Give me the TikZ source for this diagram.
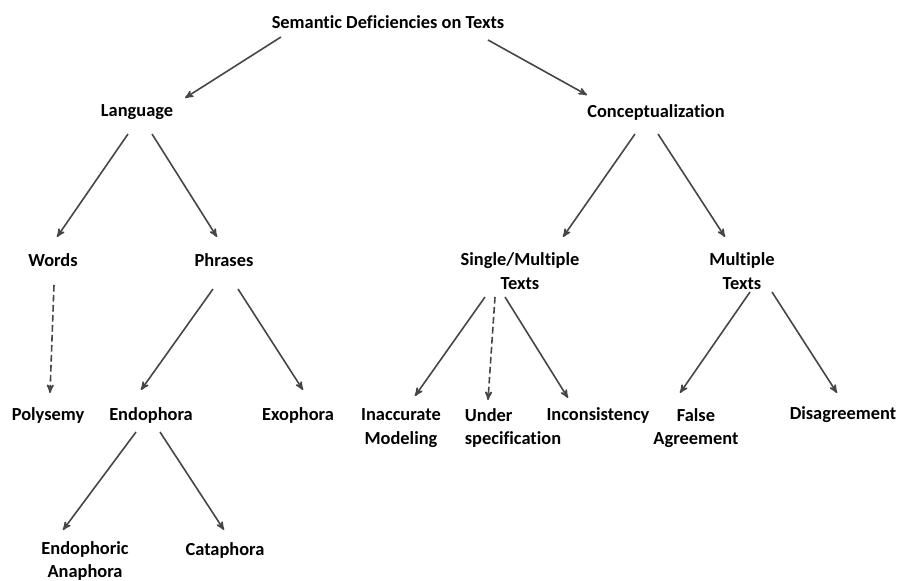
\documentclass[tikz,border=0pt]{standalone}
\usepackage{fontspec}
\setmainfont{Carlito}[Ligatures=NoCommon]
\usepackage{tikz}
\usetikzlibrary{arrows}
\definecolor{darkline}{RGB}{70,70,70}
\tikzset{->,>=stealth',
    x=0.75pt, y=-0.75pt,
    cat/.style={font=\bfseries\fontsize{13.8}{17.5}\selectfont,inner sep=0pt,align=center},
    link/.style={draw=darkline,line width=1.2pt},
    weak/.style={link,dash pattern=on 5pt off 2.5pt}}

\begin{document}
\begin{tikzpicture}
\useasboundingbox (0,0) rectangle (900,581);

\node[cat]  (root)    [] at (388,22)  {Semantic Deficiencies on Texts};
\node[cat]  (lang)    [] at (137,112) {Language};
\node[cat]  (concept) [] at (656,112) {Conceptualization};
\node[cat]  (words)   [] at (53,260)  {Words};
\node[cat]  (phrases) [] at (224,260) {Phrases};
\node[cat]  (single)  [] at (520,271) {Single/Multiple\\Texts};
\node[cat]  (multi)   [] at (742,271) {Multiple\\Texts};
\node[cat]  (poly)    [] at (48,415)  {Polysemy};
\node[cat]  (endo)    [] at (151,415) {Endophora};
\node[cat]  (exo)     [] at (298,415) {Exophora};
\node[cat]  (inacc)   [] at (401,428) {Inaccurate\\Modeling};
\node[cat,align=left] (under) [] at (513,428) {Under\\specification};
\node[cat]  (incons)  [] at (598,415) {Inconsistency};
\node[cat]  (false)   [] at (696,428) {False\\Agreement};
\node[cat]  (disag)   [] at (843,415) {Disagreement};
\node[cat]  (endoana) [] at (85,561)  {Endophoric\\Anaphora};
\node[cat]  (cata)    [] at (225,550) {Cataphora};

\path[]
    ([shift={(-107,15)}]root.center)  edge [link] ([shift={(48,-14)}]lang.center)
    ([shift={(100,18)}]root.center)   edge [link] ([shift={(-69,-17)}]concept.center)
    ([shift={(-9,22)}]lang.center)    edge [link] ([shift={(4,-23)}]words.center)
    ([shift={(15,22)}]lang.center)    edge [link] ([shift={(-7,-23)}]phrases.center)
    ([shift={(-21,22)}]concept.center) edge [link] ([shift={(43,-34)}]single.center)
    ([shift={(2,22)}]concept.center)  edge [link] ([shift={(-17,-34)}]multi.center)
    ([shift={(1,25)}]words.center)    edge [weak] ([shift={(2,-22)}]poly.center)
    ([shift={(-11,29)}]phrases.center) edge [link] ([shift={(-10,-25)}]endo.center)
    ([shift={(14,29)}]phrases.center) edge [link] ([shift={(5,-25)}]exo.center)
    ([shift={(-35,26)}]single.center) edge [link] ([shift={(14,-32)}]inacc.center)
    ([shift={(-25,26)}]single.center) edge [weak] ([shift={(-25,-28)}]under.center)
    ([shift={(-15,26)}]single.center) edge [link] ([shift={(-30,-17)}]incons.center)
    ([shift={(8,21)}]multi.center)    edge [link] ([shift={(-16,-35)}]false.center)
    ([shift={(30,21)}]multi.center)   edge [link] ([shift={(-6,-22)}]disag.center)
    ([shift={(-15,17)}]endo.center)   edge [link] ([shift={(-22,-31)}]endoana.center)
    ([shift={(9,17)}]endo.center)     edge [link] ([shift={(-1,-20)}]cata.center);
\end{tikzpicture}
\end{document}
